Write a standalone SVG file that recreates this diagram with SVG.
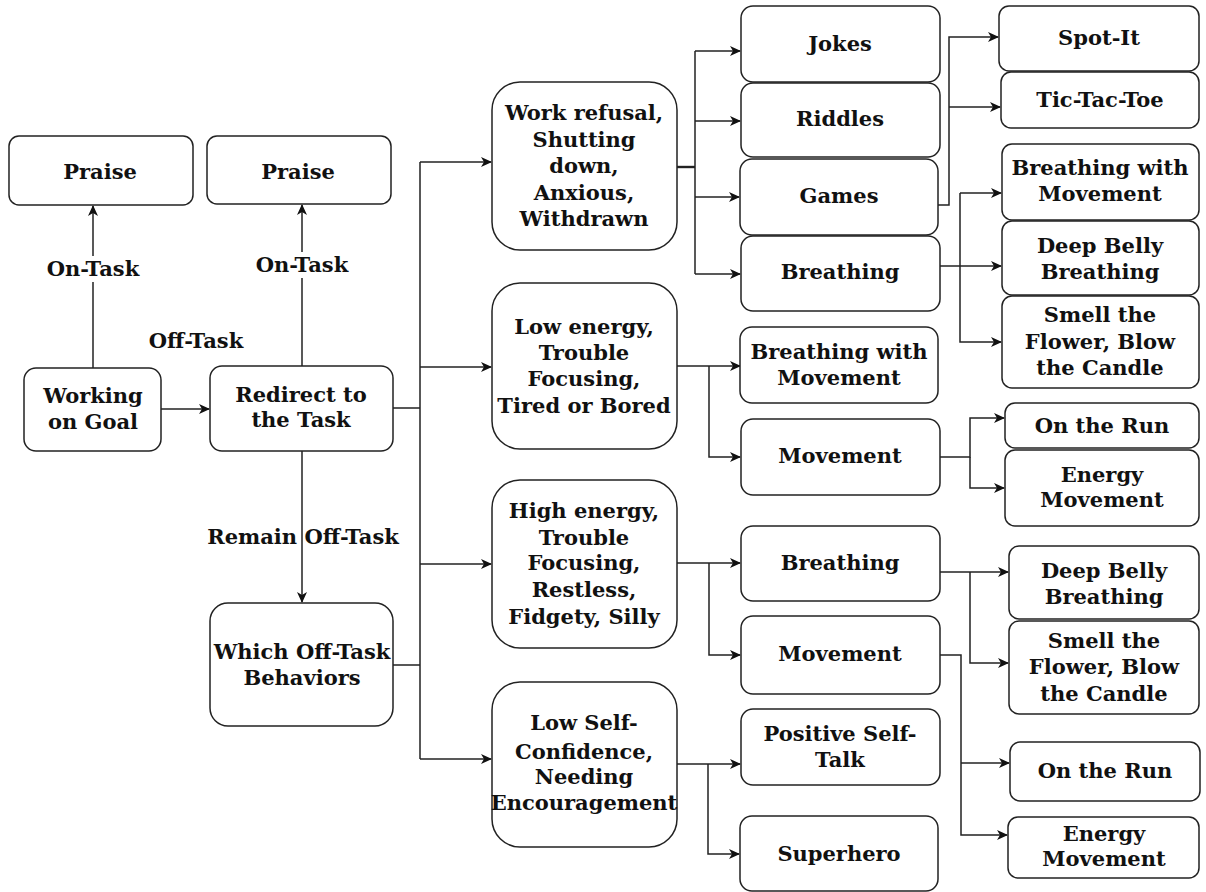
<svg xmlns="http://www.w3.org/2000/svg" width="1206" height="892" viewBox="0 0 1206 892">
<defs>
<marker id="ah" viewBox="0 0 11 10" refX="10" refY="5" markerWidth="11" markerHeight="10" markerUnits="userSpaceOnUse" orient="auto">
<path d="M0,0 L11,5 L0,10 L3,5 z" fill="#111"/>
</marker>
<style>
.b{fill:#fff;stroke:#222;stroke-width:1.5}
.t{font-family:"DejaVu Serif","Liberation Serif",serif;font-weight:bold;font-size:21px;text-anchor:middle;fill:#111}
.c{fill:none;stroke:#222;stroke-width:1.5}
.a{marker-end:url(#ah)}
.lb{fill:#fff}
</style>
</defs>
<rect width="1206" height="892" fill="#fff"/>
<g id="connectors">
<path class="c a" d="M93,368 V206"/>
<path class="c a" d="M302,366 V205"/>
<path class="c a" d="M161,409 H209"/>
<path class="c a" d="M302,451 V602"/>
<path class="c" d="M393,408 H420 M393,665 H420 M420,162 V759"/>
<path class="c a" d="M420,162 H491"/>
<path class="c a" d="M420,367 H491"/>
<path class="c a" d="M420,564 H491"/>
<path class="c a" d="M420,759 H491"/>
<path class="c" style="stroke-width:2.4" d="M677,167 H695"/>
<path class="c" d="M695,51 V274"/>
<path class="c a" d="M695,51 H740"/>
<path class="c a" d="M695,121 H740"/>
<path class="c a" d="M695,197 H739"/>
<path class="c a" d="M695,274 H740"/>
<path class="c a" d="M938,205 H949 V37 H998"/>
<path class="c a" d="M949,107 H1000"/>
<path class="c a" d="M940,266 H1001"/>
<path class="c a" d="M960,193 H1001"/>
<path class="c a" d="M960,193 V342 H1001"/>
<path class="c a" d="M677,366 H740"/>
<path class="c a" d="M709,366 V457 H740"/>
<path class="c a" d="M940,457 H970 V418 H1004"/>
<path class="c a" d="M970,457 V488 H1004"/>
<path class="c a" d="M677,563 H740"/>
<path class="c a" d="M709,563 V655 H740"/>
<path class="c a" d="M940,572 H1008"/>
<path class="c a" d="M970,572 V663 H1008"/>
<path class="c a" d="M940,655 H961 V835 H1007"/>
<path class="c a" d="M961,763 H1009"/>
<path class="c a" d="M677,764 H740"/>
<path class="c a" d="M708,764 V854 H739"/>
</g>
<g id="edge-labels">
<rect class="lb" x="42" y="256" width="102" height="26"/>
<text class="t" x="93" y="276">On-Task</text>
<rect class="lb" x="251" y="252" width="102" height="26"/>
<text class="t" x="302" y="272">On-Task</text>
<text class="t" x="196" y="348">Off-Task</text>
<text class="t" x="303" y="544">Remain Off-Task</text>
</g>
<g id="praise1"><rect class="b" x="9" y="136" width="184" height="69" rx="10"/><text class="t" x="100" y="179">Praise</text></g>
<g id="praise2"><rect class="b" x="207" y="136" width="184" height="68" rx="10"/><text class="t" x="298" y="179">Praise</text></g>
<g id="working"><rect class="b" x="24" y="368" width="137" height="83" rx="12"/><text class="t" x="93" y="403">Working</text><text class="t" x="93" y="429">on Goal</text></g>
<g id="redirect"><rect class="b" x="210" y="366" width="183" height="85" rx="12"/><text class="t" x="301" y="402">Redirect to</text><text class="t" x="301" y="427">the Task</text></g>
<g id="which"><rect class="b" x="210" y="603" width="183" height="123" rx="18"/><text class="t" x="302" y="659">Which Off-Task</text><text class="t" x="302" y="685">Behaviors</text></g>
<g id="work-refusal"><rect class="b" x="492" y="82" width="185" height="168" rx="28"/><text class="t" x="584" y="120">Work refusal,</text><text class="t" x="584" y="147">Shutting</text><text class="t" x="584" y="173">down,</text><text class="t" x="584" y="200">Anxious,</text><text class="t" x="584" y="226">Withdrawn</text></g>
<g id="low-energy"><rect class="b" x="492" y="283" width="185" height="166" rx="28"/><text class="t" x="584" y="334">Low energy,</text><text class="t" x="584" y="360">Trouble</text><text class="t" x="584" y="386">Focusing,</text><text class="t" x="584" y="413">Tired or Bored</text></g>
<g id="high-energy"><rect class="b" x="492" y="480" width="185" height="168" rx="28"/><text class="t" x="584" y="518">High energy,</text><text class="t" x="584" y="545">Trouble</text><text class="t" x="584" y="570">Focusing,</text><text class="t" x="584" y="597">Restless,</text><text class="t" x="584" y="624">Fidgety, Silly</text></g>
<g id="low-self"><rect class="b" x="492" y="682" width="185" height="165" rx="28"/><text class="t" x="584" y="730">Low Self-</text><text class="t" x="584" y="759">Confidence,</text><text class="t" x="584" y="784">Needing</text><text class="t" x="584" y="810">Encouragement</text></g>
<g id="jokes"><rect class="b" x="741" y="6" width="199" height="76" rx="12"/><text class="t" x="840" y="51">Jokes</text></g>
<g id="riddles"><rect class="b" x="741" y="83" width="199" height="74" rx="12"/><text class="t" x="840" y="126">Riddles</text></g>
<g id="games"><rect class="b" x="740" y="159" width="198" height="76" rx="12"/><text class="t" x="839" y="203">Games</text></g>
<g id="breathing1"><rect class="b" x="741" y="236" width="199" height="75" rx="12"/><text class="t" x="840" y="279">Breathing</text></g>
<g id="spot-it"><rect class="b" x="999" y="6" width="200" height="65" rx="10"/><text class="t" x="1099" y="45">Spot-It</text></g>
<g id="tic-tac-toe"><rect class="b" x="1001" y="72" width="198" height="56" rx="10"/><text class="t" x="1100" y="107">Tic-Tac-Toe</text></g>
<g id="bwm1"><rect class="b" x="1002" y="144" width="197" height="76" rx="10"/><text class="t" x="1100" y="175">Breathing with</text><text class="t" x="1100" y="201">Movement</text></g>
<g id="deep-belly1"><rect class="b" x="1002" y="221" width="197" height="74" rx="10"/><text class="t" x="1100" y="253">Deep Belly</text><text class="t" x="1100" y="279">Breathing</text></g>
<g id="smell1"><rect class="b" x="1002" y="296" width="197" height="92" rx="10"/><text class="t" x="1100" y="322">Smell the</text><text class="t" x="1100" y="349">Flower, Blow</text><text class="t" x="1100" y="375">the Candle</text></g>
<g id="bwm2"><rect class="b" x="740" y="327" width="198" height="76" rx="12"/><text class="t" x="839" y="359">Breathing with</text><text class="t" x="839" y="385">Movement</text></g>
<g id="movement1"><rect class="b" x="741" y="419" width="199" height="76" rx="12"/><text class="t" x="840" y="463">Movement</text></g>
<g id="on-the-run1"><rect class="b" x="1005" y="403" width="194" height="45" rx="10"/><text class="t" x="1102" y="433">On the Run</text></g>
<g id="energy1"><rect class="b" x="1005" y="450" width="194" height="76" rx="10"/><text class="t" x="1102" y="482">Energy</text><text class="t" x="1102" y="507">Movement</text></g>
<g id="breathing2"><rect class="b" x="741" y="526" width="199" height="75" rx="12"/><text class="t" x="840" y="570">Breathing</text></g>
<g id="movement2"><rect class="b" x="741" y="616" width="199" height="78" rx="12"/><text class="t" x="840" y="661">Movement</text></g>
<g id="deep-belly2"><rect class="b" x="1009" y="546" width="190" height="73" rx="10"/><text class="t" x="1104" y="578">Deep Belly</text><text class="t" x="1104" y="604">Breathing</text></g>
<g id="smell2"><rect class="b" x="1009" y="621" width="190" height="93" rx="10"/><text class="t" x="1104" y="648">Smell the</text><text class="t" x="1104" y="674">Flower, Blow</text><text class="t" x="1104" y="701">the Candle</text></g>
<g id="on-the-run2"><rect class="b" x="1010" y="742" width="190" height="59" rx="10"/><text class="t" x="1105" y="778">On the Run</text></g>
<g id="energy2"><rect class="b" x="1008" y="817" width="191" height="61" rx="10"/><text class="t" x="1104" y="841">Energy</text><text class="t" x="1104" y="866">Movement</text></g>
<g id="positive"><rect class="b" x="741" y="709" width="199" height="76" rx="12"/><text class="t" x="840" y="741">Positive Self-</text><text class="t" x="840" y="767">Talk</text></g>
<g id="superhero"><rect class="b" x="740" y="816" width="198" height="75" rx="12"/><text class="t" x="839" y="861">Superhero</text></g>
</svg>
